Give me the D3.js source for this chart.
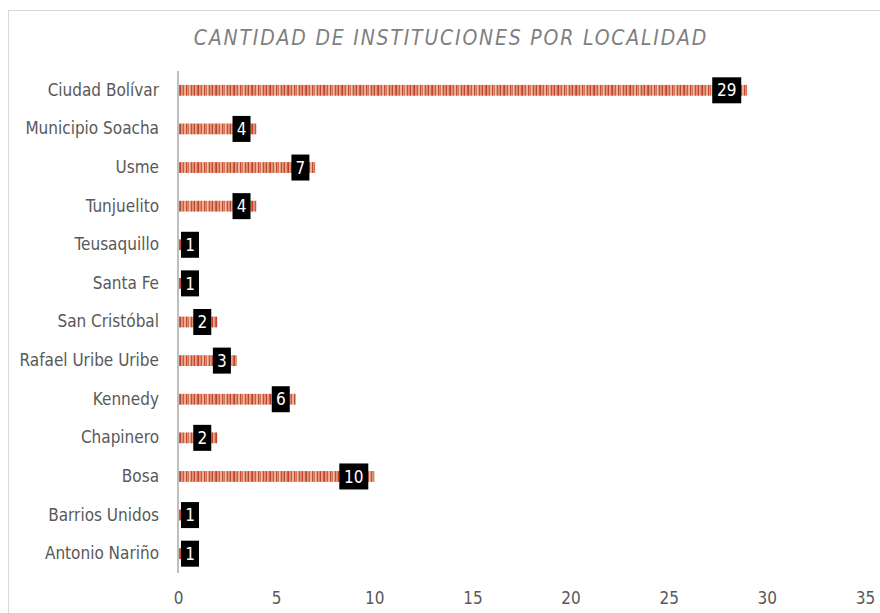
<!DOCTYPE html>
<html>
<head>
<meta charset="utf-8">
<script src="https://cdn.jsdelivr.net/npm/d3@7"></script>
<style>
  body { margin: 0; background: #fff; }
  svg text { font-family: "Liberation Sans Narrow", "DejaVu Sans Condensed", sans-serif; }
</style>
</head>
<body>
<div id="chart"></div>
<script>
// data
const localidades = ['Ciudad Bolívar', 'Municipio Soacha', 'Usme', 'Tunjuelito', 'Teusaquillo ',
  'Santa Fe', 'San Cristóbal', 'Rafael Uribe Uribe', 'Kennedy', 'Chapinero', 'Bosa',
  'Barrios Unidos', 'Antonio Nariño'];
const instituciones = [29, 4, 7, 4, 1, 1, 2, 3, 6, 2, 10, 1, 1];
const xTicks = [0, 5, 10, 15, 20, 25, 30, 35];
const titulo = 'CANTIDAD DE INSTITUCIONES POR LOCALIDAD';

const W = 880, H = 613;
const margin = { top: 71, right: 15, bottom: 40, left: 178 };

const svg = d3.select('#chart').append('svg')
  .attr('width', W).attr('height', H);

// stripe pattern for bars
const stripes = ['#c0452a', '#dc8a70', '#cc5a3c', '#eeb09a', '#c44c2e',
  '#d87456', '#f2c0ac', '#c6502f', '#e09478', '#bd4426', '#eca488', '#cf5e40'];
const pat = svg.append('defs').append('pattern')
  .attr('id', 'rayas').attr('patternUnits', 'userSpaceOnUse')
  .attr('width', stripes.length * 1.5).attr('height', 20);
stripes.forEach((c, i) => {
  pat.append('rect').attr('x', i * 1.5).attr('y', 0)
    .attr('width', 1.5).attr('height', 20).attr('fill', c);
});

// chart border
svg.append('rect')
  .attr('x', 8.5).attr('y', 10.5)
  .attr('width', W).attr('height', H)
  .attr('fill', 'none').attr('stroke', '#d9d9d9');

// title
svg.append('text')
  .attr('x', 451).attr('y', 45)
  .attr('text-anchor', 'middle')
  .attr('font-size', 21)
  .attr('font-style', 'italic')
  .attr('letter-spacing', 1.8)
  .attr('fill', '#7f7f7f')
  .text(titulo);

const x = d3.scaleLinear().domain([0, 35]).range([margin.left, W - margin.right]);
const y = d3.scaleBand().domain(localidades)
  .range([margin.top, H - margin.bottom]).paddingInner(0.72).paddingOuter(0.36);

// x axis (labels only)
const xAxis = svg.append('g')
  .attr('transform', `translate(0,${H - 15})`)
  .call(d3.axisBottom(x).tickValues(xTicks).tickSize(0).tickPadding(0));
xAxis.select('.domain').remove();
xAxis.selectAll('text').attr('font-size', 17).attr('fill', '#595959')
  .attr('dy', '0.35em');

// y axis
const yAxis = svg.append('g')
  .attr('transform', `translate(${margin.left},0)`)
  .call(d3.axisLeft(y).tickSize(0).tickPadding(19));
yAxis.select('.domain').attr('stroke', '#bfbfbf').attr('stroke-width', 2)
  .attr('d', `M0,${margin.top}V${H - margin.bottom}`);
yAxis.selectAll('text').attr('font-size', 17).attr('fill', '#595959');

// bars
svg.selectAll('.bar')
  .data(localidades)
  .enter().append('rect')
  .attr('class', 'bar')
  .attr('x', x(0) + 1)
  .attr('y', d => y(d))
  .attr('width', (d, i) => x(instituciones[i]) - x(0) - 1)
  .attr('height', y.bandwidth())
  .attr('fill', 'url(#rayas)');

// value labels in black boxes
const lab = svg.selectAll('.lab')
  .data(localidades)
  .enter().append('g')
  .attr('class', 'lab');
lab.each(function (d, i) {
  const v = instituciones[i];
  const w = String(v).length > 1 ? 29 : 18;
  let left = x(v) - 6 - w;
  if (left < x(0) + 3) left = x(0) + 3;
  const cy = y(d) + y.bandwidth() / 2;
  const g = d3.select(this);
  g.append('rect')
    .attr('x', left).attr('y', cy - 13)
    .attr('width', w).attr('height', 26)
    .attr('fill', '#000');
  g.append('text')
    .attr('x', left + w / 2).attr('y', cy)
    .attr('dy', '0.36em')
    .attr('text-anchor', 'middle')
    .attr('font-size', 17)
    .attr('fill', '#fff')
    .text(v);
});
</script>
</body>
</html>
